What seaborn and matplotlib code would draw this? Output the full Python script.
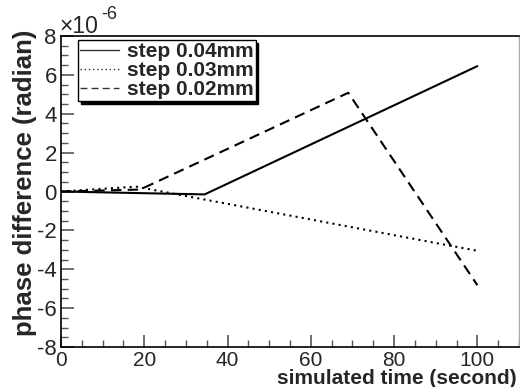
import matplotlib
matplotlib.use("Agg")
import matplotlib.pyplot as plt
import seaborn as sns
import pandas as pd
from matplotlib.ticker import MultipleLocator
from matplotlib.lines import Line2D

# Data (values in units of 1e-6 radian)
t_004 = [0, 34.5, 100]
y_004 = [0.0, -0.15, 6.45]
t_003 = [0, 18, 100]
y_003 = [0.0, 0.25, -3.05]
t_002 = [0, 19, 69, 100]
y_002 = [0.0, 0.1, 5.08, -4.82]
labels = ["step 0.04mm", "step 0.03mm", "step 0.02mm"]

rows = []
for lab, ts, ys in zip(labels, [t_004, t_003, t_002], [y_004, y_003, y_002]):
    for t, y in zip(ts, ys):
        rows.append({"t": t, "y": y, "series": lab})
df = pd.DataFrame(rows)

sns.set_style("white")
plt.rcParams['font.family'] = ['Liberation Sans', 'DejaVu Sans']
plt.rcParams['axes.unicode_minus'] = False

fig = plt.figure(figsize=(5.2, 3.87), dpi=100)
ax = fig.add_axes([61/520, 1-347/387, 458/520, 311/387])

sns.lineplot(data=df, x="t", y="y", style="series", color="black",
             dashes={labels[0]: "", labels[1]: (1, 2), labels[2]: (5, 3)},
             linewidth=1.5, ax=ax, legend=False, sort=False, estimator=None)

ax.set_xlim(0, 110)
ax.set_ylim(-8, 8)
ax.xaxis.set_major_locator(MultipleLocator(20))
ax.xaxis.set_minor_locator(MultipleLocator(5))
ax.yaxis.set_major_locator(MultipleLocator(2))
ax.yaxis.set_minor_locator(MultipleLocator(0.5))
ax.tick_params(which='both', direction='in', bottom=True, left=True, top=False, right=False,
               color='#555555')
ax.tick_params(which='major', length=9, width=1.2)
ax.tick_params(which='minor', length=5, width=1)
ax.tick_params(axis='x', labelsize=15, pad=3)
ax.tick_params(axis='y', labelsize=16, pad=3)
for s in ['left', 'bottom', 'top']:
    ax.spines[s].set_color('black')
    ax.spines[s].set_linewidth(1.2)
ax.spines['right'].set_color('#aaaaaa')
ax.spines['right'].set_linewidth(1)

ax.set_xlabel("simulated time (second)", fontsize=15, fontweight='bold')
ax.set_ylabel("phase difference (radian)", fontsize=18.5, fontweight='bold')
ax.xaxis.set_label_coords(456/458, -0.07)
ax.xaxis.label.set_horizontalalignment('right')
ax.xaxis.label.set_verticalalignment('top')
ax.yaxis.set_label_coords(-36/458, 1.02)
ax.yaxis.label.set_verticalalignment('center')
ax.yaxis.label.set_horizontalalignment('right')

fig.text(59/520, 1-33/387, "\u00d710", fontsize=16.5, ha='left', va='baseline')
fig.text(101/520, 1-19/387, "-6", fontsize=13, ha='left', va='baseline')

handles = [Line2D([], [], color='#333333', lw=1.0, ls='-'),
           Line2D([], [], color='#333333', lw=1.0, ls=(0, (1, 2))),
           Line2D([], [], color='#333333', lw=1.0, ls=(0, (5, 3)))]
leg = ax.legend(handles, labels, loc='upper left', bbox_to_anchor=(17/458, 307/311),
                frameon=True, fancybox=False,
                shadow={'facecolor': 'black', 'edgecolor': 'black', 'alpha': 1},
                prop={'weight': 'bold', 'size': 15},
                handlelength=1.85, borderpad=0.1, labelspacing=0.0, handletextpad=0.4,
                borderaxespad=0)
leg.get_frame().set_edgecolor('black')
leg.get_frame().set_linewidth(1.0)

fig.savefig("out.png", dpi=100)
